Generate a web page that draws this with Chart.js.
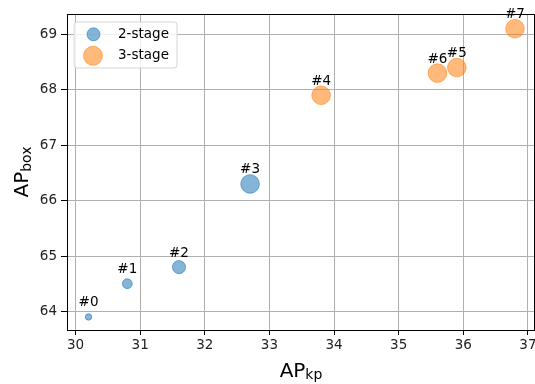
<!DOCTYPE html>
<html>
<head>
<meta charset="utf-8">
<script src="https://cdn.jsdelivr.net/npm/chart.js@4.4.0/dist/chart.umd.min.js"></script>
<style>
  html, body { margin: 0; padding: 0; background: #ffffff; }
  #c { display: block; }
</style>
</head>
<body>
<canvas id="c" width="535" height="384"></canvas>
<script>
// ---- data ----
const labels2 = ['#0', '#1', '#2', '#3'];
const apKp2   = [30.2, 30.8, 31.6, 32.7];
const apBox2  = [63.9, 64.5, 64.8, 66.3];
const area2   = [22, 50, 90, 180];      // marker area (matplotlib "s")

const labels3 = ['#4', '#5', '#6', '#7'];
const apKp3   = [33.8, 35.9, 35.6, 36.8];
const apBox3  = [67.9, 68.4, 68.3, 69.1];
const area3   = [180, 180, 180, 180];

const xTicks = [30, 31, 32, 33, 34, 35, 36, 37];
const yTicks = [64, 65, 66, 67, 68, 69];
const seriesNames = ['2-stage', '3-stage'];

// ---- styles ----
const BLUE = 'rgba(31,119,180,0.55)';
const ORANGE = 'rgba(255,127,14,0.55)';
const FONT = '"DejaVu Sans", sans-serif';
const toRadius = s => Math.sqrt(s) / 2 * 100 / 72;

const pts = (xs, ys) => xs.map((x, i) => ({ x: x, y: ys[i] }));

const overlay = {
  id: 'overlay',
  afterDatasetsDraw(chart) {
    const ctx = chart.ctx;
    const a = chart.chartArea;
    ctx.save();
    // spines top/right
    ctx.strokeStyle = '#000';
    ctx.lineWidth = 1;
    ctx.beginPath();
    ctx.moveTo(a.left, a.top + 0.5);
    ctx.lineTo(a.right - 0.5, a.top + 0.5);
    ctx.lineTo(a.right - 0.5, a.bottom);
    ctx.stroke();
    // point labels
    ctx.fillStyle = '#000';
    ctx.font = '13.5px ' + FONT;
    ctx.textAlign = 'center';
    ctx.textBaseline = 'alphabetic';
    chart.data.datasets.forEach((ds, di) => {
      const meta = chart.getDatasetMeta(di);
      meta.data.forEach((el, i) => {
        ctx.fillText(ds.pointLabels[i], el.x, el.y - 10.5);
      });
    });
    ctx.restore();
  },
  afterDraw(chart) {
    const ctx = chart.ctx;
    const a = chart.chartArea;
    ctx.save();
    // x axis title AP_kp
    ctx.fillStyle = '#000';
    ctx.textBaseline = 'alphabetic';
    ctx.textAlign = 'left';
    ctx.font = '20px ' + FONT;
    const mainW = ctx.measureText('AP').width;
    ctx.font = '14px ' + FONT;
    const subWx = ctx.measureText('kp').width;
    let cx = (a.left + a.right) / 2 - (mainW + subWx) / 2;
    ctx.font = '20px ' + FONT;
    ctx.fillText('AP', cx, 376.5);
    ctx.font = '14px ' + FONT;
    ctx.fillText('kp', cx + mainW, 378.5);

    // y axis title AP_box
    ctx.font = '14px ' + FONT;
    const subWy = ctx.measureText('box').width;
    ctx.save();
    ctx.translate(28, (a.top + a.bottom) / 2);
    ctx.rotate(-Math.PI / 2);
    const sx = -(mainW + subWy) / 2;
    ctx.font = '20px ' + FONT;
    ctx.fillText('AP', sx, 0);
    ctx.font = '14px ' + FONT;
    ctx.fillText('box', sx + mainW, 2.5);
    ctx.restore();

    // legend
    const lx = 74, ly = 22, lw = 103, lh = 46, r = 3;
    ctx.beginPath();
    ctx.moveTo(lx + r, ly);
    ctx.arcTo(lx + lw, ly, lx + lw, ly + lh, r);
    ctx.arcTo(lx + lw, ly + lh, lx, ly + lh, r);
    ctx.arcTo(lx, ly + lh, lx, ly, r);
    ctx.arcTo(lx, ly, lx + lw, ly, r);
    ctx.closePath();
    ctx.fillStyle = 'rgba(255,255,255,0.8)';
    ctx.fill();
    ctx.strokeStyle = '#d6d6d6';
    ctx.lineWidth = 1;
    ctx.stroke();

    const entries = [
      { c: BLUE, r: 6.5, x: 93.5, y: 34.3, ty: 37.5 },
      { c: ORANGE, r: 9.5, x: 93, y: 55.8, ty: 58.5 }
    ];
    entries.forEach((e, i) => {
      ctx.beginPath();
      ctx.arc(e.x, e.y, e.r, 0, Math.PI * 2);
      ctx.fillStyle = e.c;
      ctx.fill();
      ctx.strokeStyle = e.c;
      ctx.stroke();
      ctx.fillStyle = '#000';
      ctx.font = '13.5px ' + FONT;
      ctx.textAlign = 'left';
      ctx.fillText(seriesNames[i], 118, e.ty);
    });
    ctx.restore();
  }
};

new Chart(document.getElementById('c'), {
  type: 'scatter',
  data: {
    datasets: [
      {
        label: seriesNames[0],
        data: pts(apKp2, apBox2),
        pointLabels: labels2,
        backgroundColor: BLUE,
        borderColor: BLUE,
        borderWidth: 1,
        pointRadius: area2.map(toRadius),
        pointHoverRadius: area2.map(toRadius)
      },
      {
        label: seriesNames[1],
        data: pts(apKp3, apBox3),
        pointLabels: labels3,
        backgroundColor: ORANGE,
        borderColor: ORANGE,
        borderWidth: 1,
        pointRadius: area3.map(toRadius),
        pointHoverRadius: area3.map(toRadius)
      }
    ]
  },
  options: {
    responsive: false,
    animation: false,
    events: [],
    layout: { autoPadding: false, padding: { left: 0, right: 0, top: 14, bottom: 0 } },
    plugins: {
      legend: { display: false },
      tooltip: { enabled: false },
      title: { display: false }
    },
    scales: {
      x: {
        type: 'linear',
        min: 29.867,
        max: 37.11,
        afterBuildTicks: s => { s.ticks = xTicks.map(v => ({ value: v })); },
        afterFit: s => { s.height = 54; s.paddingLeft = 0; s.paddingRight = 0; },
        ticks: {
          font: { family: FONT, size: 13.5 },
          color: '#222',
          padding: 2,
          maxRotation: 0,
          autoSkip: false,
          callback: v => String(v)
        },
        grid: { color: '#b0b0b0', lineWidth: 1, tickLength: 5, tickColor: '#000' },
        border: { color: '#000', width: 1 }
      },
      y: {
        type: 'linear',
        min: 63.665,
        max: 69.366,
        afterBuildTicks: s => { s.ticks = yTicks.map(v => ({ value: v })); },
        afterFit: s => { s.width = 67; s.paddingTop = 0; s.paddingBottom = 0; },
        ticks: {
          font: { family: FONT, size: 13.5 },
          color: '#222',
          padding: 4,
          autoSkip: false,
          callback: v => String(v)
        },
        grid: { color: '#b0b0b0', lineWidth: 1, tickLength: 6, tickColor: '#000' },
        border: { color: '#000', width: 1 }
      }
    }
  },
  plugins: [overlay]
});
</script>
</body>
</html>
